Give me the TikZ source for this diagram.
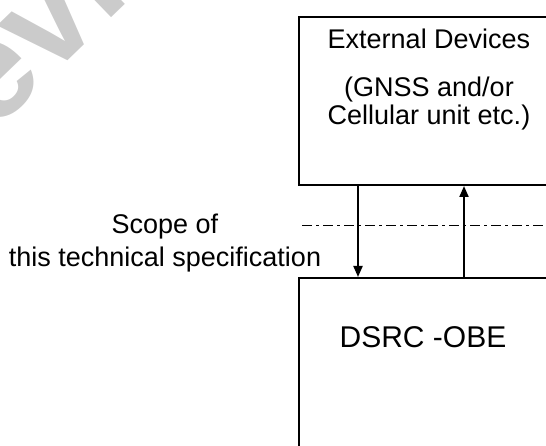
\documentclass[tikz,border=0pt]{standalone}
\usepackage{fontspec}
\setmainfont{Liberation Sans}
\usetikzlibrary{positioning,arrows.meta}
\definecolor{MarkGray}{HTML}{CBCBCB}

\begin{document}
\begin{tikzpicture}[x=1pt,y=-1pt,
  every node/.style={font=\fontsize{27}{33}\selectfont},
  box/.style={draw,line width=2pt,inner sep=0pt},
  flow/.style={-{Triangle[length=11pt,width=9pt]},line width=2pt}]
  \useasboundingbox (0,0) rectangle (546,446);
  \clip (0,0) rectangle (546,446);
  \node[rotate=44,text=MarkGray,font=\fontsize{140}{140}\selectfont\bfseries] (mark) at (42,16) {Preview};
  \node[box,anchor=north west,minimum width=266pt,minimum height=168pt] (ext) at (298,16) {};
  \node[box,anchor=north west,minimum width=266pt,minimum height=200pt] (obe) at (298,277) {};
  \node (extname) at (429,39) {External Devices};
  \node[align=center,font=\fontsize{27}{28}\selectfont] (extnote) at (429,104) {(GNSS and/or\\Cellular unit etc.)};
  \node[font=\fontsize{30}{36}\selectfont] (obename) at (423,337) {DSRC -OBE};
  \node[align=center] (scope) at (165,243) {Scope of\\this technical specification};
  \coordinate (scopeL) at (302,226);
  \coordinate (scopeR) at (546,226);
  \draw[line width=1pt,dash pattern=on 10pt off 4pt on 3pt off 4pt] (scopeL) -- (scopeR);
  \draw[flow] ([xshift=-74pt]ext.south) -- ([xshift=-74pt]obe.north);
  \draw[flow] ([xshift=32pt]obe.north) -- ([xshift=32pt]ext.south);
\end{tikzpicture}
\end{document}
